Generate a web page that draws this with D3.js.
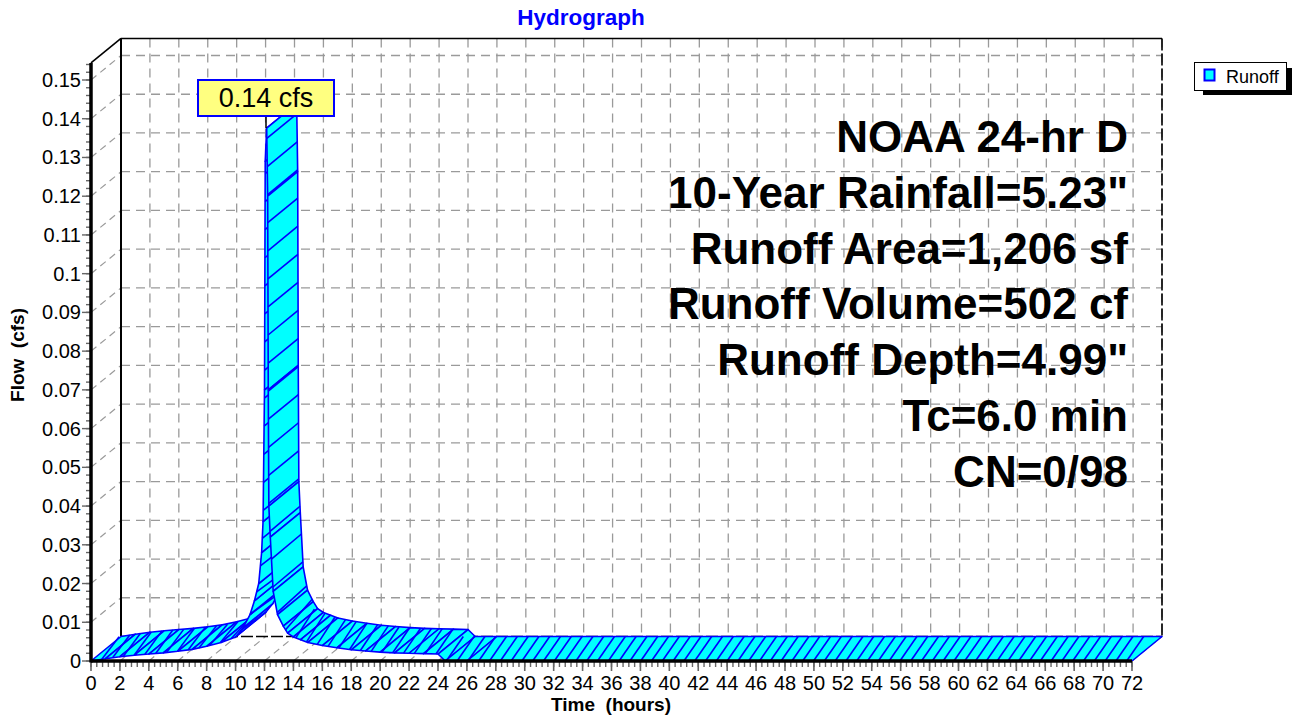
<!DOCTYPE html>
<html><head><meta charset="utf-8">
<script src="https://cdn.jsdelivr.net/npm/d3@7"></script>
<style>body{margin:0;background:#fff;}svg{display:block;font-family:"Liberation Sans",Arial,sans-serif;}</style>
</head><body>
<svg id="c" width="1294" height="717"></svg>
<script>
// ---- data ----
const times = [0,1,2,3,4,5,6,7,8,9,10,10.5,11,11.3,11.6,11.8,11.9,12.0,12.05,12.15,12.22,12.26,12.3,12.4,12.6,12.9,13.3,13.6,14,14.5,15,16,17,18,19,20,21,22,23,24,24.5,26,72];
const flows = [0,0.0006,0.0011,0.0015,0.0018,0.0021,0.0025,0.003,0.0038,0.0048,0.0062,0.0085,0.012,0.0155,0.02,0.028,0.036,0.07,0.129,0.1376,0.12,0.07,0.04,0.032,0.018,0.012,0.009,0.0072,0.0062,0.0055,0.0048,0.004,0.0034,0.0029,0.0026,0.0023,0.0021,0.002,0.0019,0.0018,0,0,0];
const xTicks = d3.range(0,73,2);
const yTicks = [0,0.01,0.02,0.03,0.04,0.05,0.06,0.07,0.08,0.09,0.1,0.11,0.12,0.13,0.14,0.15];
const yTickLabels = ["0","0.01","0.02","0.03","0.04","0.05","0.06","0.07","0.08","0.09","0.1","0.11","0.12","0.13","0.14","0.15"];
const infoLines = ["NOAA 24-hr D","10-Year Rainfall=5.23\"","Runoff Area=1,206 sf","Runoff Volume=502 cf","Runoff Depth=4.99\"","Tc=6.0 min","CN=0/98"];
const peakLabel = "0.14 cfs";
const peakIndex = 19;
const seriesName = "Runoff";
const chartTitle = "Hydrograph";
const xTitle = "Time  (hours)";
const yTitle = "Flow  (cfs)";

const svg = d3.select("#c");
const x = d3.scaleLinear().domain([0,72]).range([91,1132]);
const y = d3.scaleLinear().domain([0,0.15]).range([661,80]);
const DX = 30, DY = -24.5;
const yTopVal = 0.1544;
const grey = "#9a9a9a";

// back wall grid
const g = svg.append("g");
g.selectAll(".vg").data(xTicks.slice(1)).join("line")
  .attr("x1", d=>x(d)+DX).attr("x2", d=>x(d)+DX)
  .attr("y1", y(yTopVal)+DY).attr("y2", y(0)+DY)
  .attr("stroke", grey).attr("stroke-width",1.3).attr("stroke-dasharray","9,6");
g.selectAll(".hg").data(yTicks.slice(1)).join("line")
  .attr("x1", x(0)+DX).attr("x2", x(72)+DX)
  .attr("y1", d=>y(d)+DY).attr("y2", d=>y(d)+DY)
  .attr("stroke", grey).attr("stroke-width",1.3).attr("stroke-dasharray","9,6");
// side wall diagonals
g.selectAll(".sd").data(yTicks.slice(1)).join("line")
  .attr("x1", x(0)).attr("y1", d=>y(d)).attr("x2", x(0)+DX).attr("y2", d=>y(d)+DY)
  .attr("stroke", grey).attr("stroke-width",1.2).attr("stroke-dasharray","7,5");
// floor diagonals
g.selectAll(".fd").data(xTicks.slice(1)).join("line")
  .attr("x1", d=>x(d)).attr("y1", y(0)).attr("x2", d=>x(d)+DX).attr("y2", y(0)+DY)
  .attr("stroke", grey).attr("stroke-width",1.2).attr("stroke-dasharray","7,5");
// back wall borders
g.append("line").attr("x1",x(0)+DX).attr("x2",x(72)+DX).attr("y1",y(yTopVal)+DY).attr("y2",y(yTopVal)+DY).attr("stroke","#000").attr("stroke-width",1.6);
g.append("line").attr("x1",x(0)+DX).attr("x2",x(0)+DX).attr("y1",y(yTopVal)+DY).attr("y2",y(0)+DY).attr("stroke","#000").attr("stroke-width",2);
g.append("line").attr("x1",x(72)+DX).attr("x2",x(72)+DX).attr("y1",y(yTopVal)+DY).attr("y2",y(0)+DY).attr("stroke","#000").attr("stroke-width",1.6).attr("stroke-dasharray","12,3");
g.append("line").attr("x1",x(0)+DX).attr("x2",x(72)+DX).attr("y1",y(0)+DY).attr("y2",y(0)+DY).attr("stroke","#000").attr("stroke-width",1.6).attr("stroke-dasharray","12,3");

// series ribbon
const pts = times.map((t,i)=>[x(t), y(flows[i])]);
const rib = svg.append("g");
let acc = 0; const step = 10.8;
let nextAt = step;
for (let i=0;i<pts.length-1;i++){
  const [x0,y0]=pts[i], [x1,y1]=pts[i+1];
  const seg = rib.append("g");
  const quad = `M${x0},${y0}L${x1},${y1}L${x1+DX},${y1+DY}L${x0+DX},${y0+DY}Z`;
  seg.append("path").attr("d", quad)
    .attr("fill","#00FFFF").attr("stroke","#0000FF").attr("stroke-width",1.6).attr("stroke-linejoin","round");
  const pl = Math.hypot(x1-x0, y1-y0) || 1;
  const ux = (x1-x0)/pl, uy = (y1-y0)/pl;
  const k = 13*Math.abs(ux);
  const len = Math.sqrt((x1-x0)**2 + ((y1-y0)/2.6)**2);
  while (nextAt <= acc+len) {
    const f = (nextAt-acc)/len;
    const hx = x0+(x1-x0)*f, hy = y0+(y1-y0)*f;
    seg.append("line").attr("x1",hx).attr("y1",hy)
      .attr("x2",hx+DX-k*ux).attr("y2",hy+DY-k*uy)
      .attr("stroke","#0000FF").attr("stroke-width",1.6);
    nextAt += step;
  }
  acc += len;
}

// front axes
svg.append("line").attr("x1",x(0)).attr("x2",x(0)+DX).attr("y1",y(yTopVal)).attr("y2",y(yTopVal)+DY).attr("stroke","#000").attr("stroke-width",1.6);
// y ticks
const yMinor = d3.range(0,0.1541,0.002);
svg.selectAll(".ymt").data(yMinor).join("line")
  .attr("x1",x(0)-5).attr("x2",x(0)).attr("y1",d=>y(d)).attr("y2",d=>y(d))
  .attr("stroke","#666").attr("stroke-width",1.4);
svg.selectAll(".yt").data(yTicks).join("line")
  .attr("x1",x(0)-9).attr("x2",x(0)).attr("y1",d=>y(d)).attr("y2",d=>y(d))
  .attr("stroke","#666").attr("stroke-width",1.4);
svg.selectAll(".yl").data(yTicks).join("text")
  .attr("x",x(0)-10).attr("y",d=>y(d)+7).attr("text-anchor","end")
  .attr("font-size",20).attr("fill","#000").text((d,i)=>yTickLabels[i]);
// x ticks
const xMinor = d3.range(0,72.01,0.4);
svg.selectAll(".xmt").data(xMinor).join("line")
  .attr("x1",d=>x(d)).attr("x2",d=>x(d)).attr("y1",y(0)).attr("y2",y(0)+6)
  .attr("stroke","#666").attr("stroke-width",1.4);
svg.selectAll(".xt").data(xTicks).join("line")
  .attr("x1",d=>x(d)).attr("x2",d=>x(d)).attr("y1",y(0)).attr("y2",y(0)+10)
  .attr("stroke","#666").attr("stroke-width",1.6);
svg.selectAll(".xl").data(xTicks).join("text")
  .attr("x",d=>x(d)).attr("y",690).attr("text-anchor","middle")
  .attr("font-size",20).attr("fill","#000").text(d=>d);
svg.append("line").attr("x1",x(0)).attr("x2",x(0)).attr("y1",y(yTopVal)).attr("y2",y(0)+1.5).attr("stroke","#000").attr("stroke-width",3.5);
svg.append("line").attr("x1",x(0)).attr("x2",x(72)).attr("y1",y(0)).attr("y2",y(0)).attr("stroke","#000").attr("stroke-width",3.5);

// titles
svg.append("text").attr("x",581).attr("y",25).attr("text-anchor","middle").attr("font-size",22.5).attr("font-weight","bold").attr("fill","#0000FF").text(chartTitle);
svg.append("text").attr("x",611).attr("y",711).attr("text-anchor","middle").attr("font-size",19).attr("font-weight","bold").style("white-space","pre").text(xTitle);
svg.append("text").attr("transform","translate(24,355) rotate(-90)").attr("text-anchor","middle").attr("font-size",19).attr("font-weight","bold").style("white-space","pre").text(yTitle);

// info block
svg.selectAll(".info").data(infoLines).join("text")
  .attr("x",1128).attr("y",(d,i)=>152+i*55.8).attr("text-anchor","end")
  .attr("font-size",44).attr("font-weight","bold").attr("fill","#000").text(d=>d);

// peak label
const px = x(times[peakIndex]) , py = y(flows[peakIndex]);
svg.append("line").attr("x1",266).attr("x2",266).attr("y1",116).attr("y2",py).attr("stroke","#000").attr("stroke-width",1.5);
svg.append("rect").attr("x",198).attr("y",80).attr("width",136).attr("height",36).attr("fill","#FFFF80").attr("stroke","#0000FF").attr("stroke-width",2);
svg.append("text").attr("x",266).attr("y",107).attr("text-anchor","middle").attr("font-size",27).attr("fill","#000").text(peakLabel);

// legend
svg.append("rect").attr("x",1203).attr("y",68).attr("width",89).attr("height",27).attr("fill","#000");
svg.append("rect").attr("x",1194.5).attr("y",62.5).attr("width",92).attr("height",28).attr("fill","#fff").attr("stroke","#000").attr("stroke-width",1);
svg.append("rect").attr("x",1204.5).attr("y",69.5).attr("width",10).attr("height",11).attr("fill","#00FFFF").attr("stroke","#0000FF").attr("stroke-width",2);
svg.append("text").attr("x",1226).attr("y",83).attr("font-size",18).attr("fill","#000").text(seriesName);
</script>
</body></html>
